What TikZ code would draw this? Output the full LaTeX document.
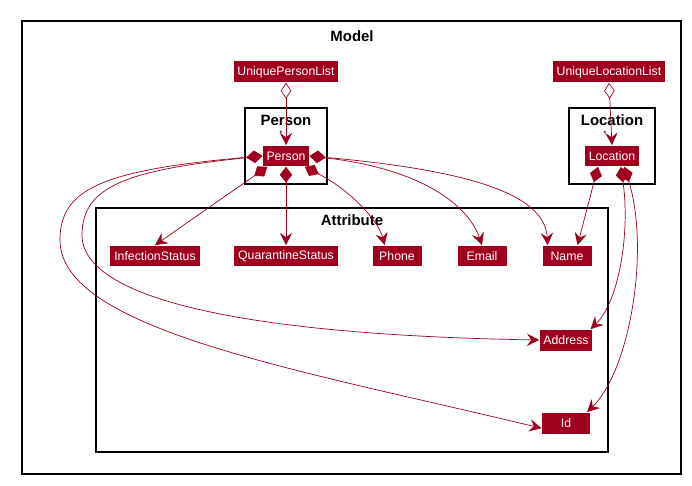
\documentclass[tikz,border=0pt]{standalone}
\usepackage{fontspec}
\setmainfont{Liberation Sans}
\usetikzlibrary{arrows.meta}
\usetikzlibrary{positioning}
\definecolor{umlred}{HTML}{9E001D}
\tikzset{>={Stealth[length=7pt,width=7pt,inset=2.5pt]},
  cls/.style={fill=umlred,text=white,font=\fontsize{7}{8}\selectfont,
    inner sep=2.2pt,minimum height=0.42cm},
  pkg/.style={draw,thick,black},
  pkgname/.style={font=\bfseries\fontsize{8.5}{10}\selectfont},
  comp/.style={umlred,{Diamond[fill=umlred,length=9pt,width=7pt]}->},
  aggr/.style={umlred,{Diamond[open,fill=white,length=9pt,width=6pt]}->},
  mult/.style={font=\fontsize{4.5}{5}\selectfont,text=black,inner sep=0pt}}

\begin{document}
\begin{tikzpicture}[x=0.02cm,y=-0.02cm,line cap=round]

  \useasboundingbox (0,0) rectangle (692,486);

  % packages
  \draw [pkg] (22,21) rectangle (681,474);
  \draw (352,36) node [pkgname] {Model};
  \draw [pkg] (245,108) rectangle (327,184);
  \draw (286,120) node [pkgname] {Person};
  \draw [pkg] (569,108) rectangle (655,184);
  \draw (612,120) node [pkgname] {Location};
  \draw [pkg] (96,208) rectangle (608,452);
  \draw (352,220) node [pkgname] {Attribute};

  % classes
  \node [cls] (upl) at (286,72) {UniquePersonList};
  \node [cls] (ull) at (609,72) {UniqueLocationList};
  \node [cls] (person) at (286,156) {Person};
  \node [cls] (location) at (612,156) {Location};
  \node [cls] (infection) at (155,256) {InfectionStatus};
  \node [cls] (quarantine) at (286,256) {QuarantineStatus};
  \node [cls,minimum width=0.98cm] (phone) at (397,256) {Phone};
  \node [cls,minimum width=0.98cm] (email) at (482,256) {Email};
  \node [cls,minimum width=0.98cm] (name) at (567,256) {Name};
  \node [cls,minimum width=1cm] (address) at (566,340) {Address};
  \node [cls,minimum width=0.96cm] (id) at (566,423) {Id};

  % lists
  \draw [aggr] (upl) -- (person);
  \node [mult] (pstar) at (281,134) {*};
  \draw [aggr] (ull.south) -- (location.north);
  \node [mult] (lstar) at (605,134) {*};

  % person attributes
  \draw [comp] (person.-150) -- (infection.north);
  \draw [comp] (person.south) -- (quarantine.north);
  \draw [comp] (person.-30) .. controls (350,190) and (378,220) .. ([xshift=-7]phone.north);
  \draw [comp] (person.east) .. controls (430,170) and (470,210) .. (email.north);
  \draw [comp] (person.east) .. controls (490,172) and (545,200) .. ([xshift=-11]name.north);
  \draw [comp] (person.west) .. controls (130,170) and (82,185) .. (82,235)
    .. controls (82,300) and (250,335) .. (address.west);
  \draw [comp] (person.west) .. controls (100,170) and (60,190) .. (60,240)
    .. controls (60,330) and (300,370) .. ([yshift=-3]id.west);

  % location attributes
  \draw [comp] ([xshift=-8]location.south) -- ([xshift=6]name.north);
  \draw [comp] ([xshift=5]location.south) .. controls (630,230) and (620,300) .. ([xshift=14]address.north);
  \draw [comp] ([xshift=7]location.south) .. controls (650,250) and (630,370) .. ([xshift=12]id.north);

\end{tikzpicture}
\end{document}
